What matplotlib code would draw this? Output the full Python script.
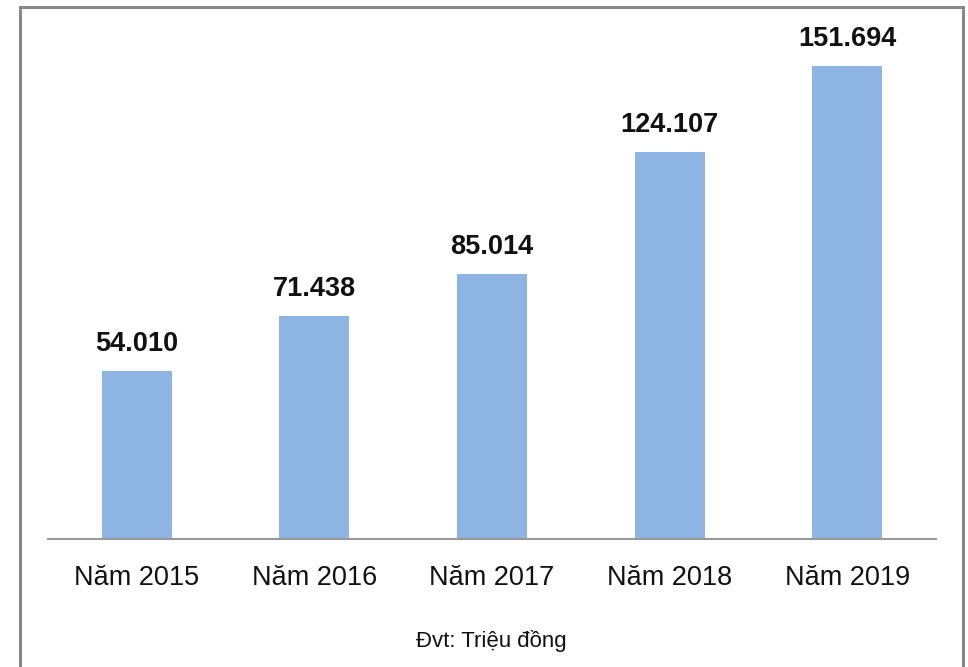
import matplotlib
matplotlib.use("Agg")
import matplotlib.pyplot as plt
from matplotlib.patches import Rectangle

# data
years = ["Năm 2015", "Năm 2016", "Năm 2017", "Năm 2018", "Năm 2019"]
values = [54.010, 71.438, 85.014, 124.107, 151.694]
value_labels = ["54.010", "71.438", "85.014", "124.107", "151.694"]
unit_note = "Đvt: Triệu đồng"

plt.rcParams["font.family"] = ["Liberation Sans", "DejaVu Sans"]

fig = plt.figure(figsize=(9.68, 6.67), dpi=100)
fig.patch.set_facecolor("white")

# outer frame (bottom edge runs off the image)
frame = Rectangle((20 / 968, -0.05), (963 - 20) / 968, (667 - 7) / 667 + 0.05,
                  transform=fig.transFigure, fill=False,
                  edgecolor="#888888", linewidth=2.2, clip_on=False)
fig.patches.append(frame)

ax = fig.add_axes([48 / 968, (667 - 539) / 667, (936 - 48) / 968, 499 / 667])
x = range(len(years))
bars = ax.bar(x, values, width=0.395, color="#8EB4E3", zorder=2)

for b, lab in zip(bars, value_labels):
    ax.annotate(lab, (b.get_x() + b.get_width() / 2, b.get_height()),
                xytext=(0, 10), textcoords="offset points",
                ha="center", va="bottom", fontsize=19.5, fontweight="bold",
                color="#111111")

ax.set_xlim(-0.5, len(years) - 0.5)
ax.set_ylim(0, 160)
ax.set_xticks(list(x))
ax.set_xticklabels(years, fontsize=19.5, color="#111111")
ax.tick_params(axis="x", length=0, pad=19)
ax.set_yticks([])
for side in ("top", "right", "left"):
    ax.spines[side].set_visible(False)
ax.spines["bottom"].set_color("#999999")
ax.spines["bottom"].set_linewidth(1.5)

fig.text(491 / 968, 1 - 641 / 667, unit_note, ha="center", va="center",
         fontsize=16, color="#111111")

fig.savefig("out.png", dpi=100, facecolor="white")
